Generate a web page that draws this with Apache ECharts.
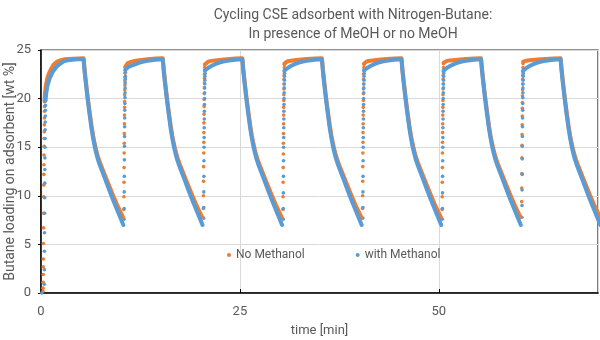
<!DOCTYPE html>
<html>
<head>
<meta charset="utf-8">
<script src="https://cdn.jsdelivr.net/npm/echarts@6/dist/echarts.min.js"></script>
<style>
html,body{margin:0;padding:0;background:#fff;}
#chart{width:600px;height:340px;}
</style>
</head>
<body>
<div id="chart"></div>
<script>
// ---- Data (time [min], butane loading [wt %]) ----
const titleLines = ['Cycling CSE adsorbent with Nitrogen-Butane:', 'In presence of MeOH or no MeOH'];
const seriesNames = ['No Methanol', 'with Methanol'];
const xAxisName = 'time [min]';
const yAxisName = 'Butane loading on adsorbent [wt %]';
const xMin = 0, xMax = 70, xStep = 25;
const yMin = 0, yMax = 25, yStep = 5;

// No Methanol: sparse points of the fast adsorption rise in each cycle
const noMethanolRise = [
  [0.25,0.2],[0.26,0.5],[0.27,1.1],[0.28,1.9],[0.29,2.7],[0.30,3.5],[0.31,5.1],[0.32,6.7],[0.33,8.2],[0.34,9.9],[0.35,11.1],[0.36,12.2],[0.37,13.2],[0.38,14.2],[0.39,15.1],[0.40,15.9],[0.41,16.6],[0.42,17.3],[0.43,18.0],[0.44,18.7],[0.45,19.2],
  [10.41,8.6],[10.42,9.9],[10.43,11.4],[10.44,12.9],[10.45,14.4],[10.46,15.4],[10.47,16.4],[10.48,17.4],[10.49,18.3],[10.50,19.1],[10.51,19.7],[10.52,20.4],[10.53,20.9],[10.54,21.4],[10.55,21.8],[10.56,22.2],[10.57,22.6],[10.58,22.9],[10.59,23.2],
  [20.41,8.7],[20.42,10.0],[20.43,11.5],[20.44,13.0],[20.45,14.4],[20.46,15.5],[20.47,16.5],[20.48,17.5],[20.49,18.4],[20.50,19.2],[20.51,19.9],[20.52,20.5],[20.53,21.1],[20.54,21.6],[20.55,22.1],[20.56,22.5],[20.57,22.9],[20.58,23.2],[20.59,23.5],
  [30.41,8.6],[30.42,9.9],[30.43,11.4],[30.44,12.9],[30.45,14.3],[30.46,15.4],[30.47,16.4],[30.48,17.4],[30.49,18.3],[30.50,19.1],[30.51,19.8],[30.52,20.4],[30.53,21.0],[30.54,21.5],[30.55,22.0],[30.56,22.4],[30.57,22.8],[30.58,23.2],[30.59,23.5],
  [40.41,8.7],[40.42,10.0],[40.43,11.5],[40.44,13.0],[40.45,14.4],[40.46,15.5],[40.47,16.5],[40.48,17.4],[40.49,18.3],[40.50,19.1],[40.51,19.8],[40.52,20.5],[40.53,21.0],[40.54,21.5],[40.55,22.0],[40.56,22.5],[40.57,22.9],[40.58,23.2],[40.59,23.5],
  [50.41,8.6],[50.42,9.9],[50.43,11.4],[50.44,12.9],[50.45,14.4],[50.46,15.5],[50.47,16.5],[50.48,17.4],[50.49,18.3],[50.50,19.1],[50.51,19.8],[50.52,20.4],[50.53,21.0],[50.54,21.5],[50.55,22.0],[50.56,22.4],[50.57,22.8],[50.58,23.2],[50.59,23.6],
  [60.41,9.4],[60.42,10.8],[60.43,12.3],[60.44,13.9],[60.45,15.2],[60.46,16.3],[60.47,17.3],[60.48,18.2],[60.49,19.0],[60.50,19.6],[60.51,20.3],[60.52,20.9],[60.53,21.5],[60.54,22.0],[60.55,22.4],[60.56,22.8],[60.57,23.2],[60.58,23.6]
];

// No Methanol: densely sampled plateau + desorption stretches ('-' = gap between cycles)
const noMethanolBand = [
  [0.45,19.7],[0.5,20.6],[0.6,21.3],[0.8,22.1],[1.0,22.6],[1.3,23.1],[1.6,23.5],[2.0,23.8],[2.5,23.95],[3.0,24.05],[4.0,24.1],[5.35,24.15],
  [5.45,23.3],[5.6,22.1],[5.85,20.3],[6.1,18.7],[6.35,17.2],[6.55,16.2],[6.75,15.35],[6.95,14.65],[7.15,14.05],[7.35,13.55],[7.65,12.9],[8.05,12.1],[8.55,11.05],[9.05,10.05],[9.55,9.1],[9.95,8.4],[10.3,7.8],[10.3,'-'],
  [10.6,23.3],[10.7,23.5],[10.9,23.65],[11.4,23.8],[11.9,23.9],[12.4,23.95],[13.4,24.05],[14.4,24.12],[15.3,24.15],
  [15.4,23.3],[15.55,22.1],[15.8,20.3],[16.05,18.7],[16.3,17.2],[16.5,16.2],[16.7,15.35],[16.9,14.65],[17.1,14.05],[17.3,13.55],[17.6,12.9],[18.0,12.1],[18.5,11.05],[19.0,10.05],[19.5,9.1],[19.9,8.4],[20.25,7.8],[20.25,'-'],
  [20.6,23.5],[20.75,23.7],[21.0,23.8],[21.4,23.88],[22.4,23.98],[23.4,24.06],[24.4,24.12],[25.3,24.15],
  [25.4,23.3],[25.55,22.1],[25.8,20.3],[26.05,18.7],[26.3,17.2],[26.5,16.2],[26.7,15.35],[26.9,14.65],[27.1,14.05],[27.3,13.55],[27.6,12.9],[28.0,12.1],[28.5,11.05],[29.0,10.05],[29.5,9.1],[29.9,8.4],[30.25,7.8],[30.25,'-'],
  [30.6,23.6],[30.75,23.75],[31.0,23.85],[31.4,23.9],[32.4,24.0],[33.4,24.08],[34.4,24.12],[35.3,24.15],
  [35.4,23.3],[35.55,22.1],[35.8,20.3],[36.05,18.7],[36.3,17.2],[36.5,16.2],[36.7,15.35],[36.9,14.65],[37.1,14.05],[37.3,13.55],[37.6,12.9],[38.0,12.1],[38.5,11.05],[39.0,10.05],[39.5,9.1],[39.9,8.4],[40.25,7.8],[40.25,'-'],
  [40.6,23.6],[40.75,23.75],[41.0,23.85],[41.4,23.9],[42.4,24.0],[43.4,24.08],[44.4,24.12],[45.3,24.15],
  [45.4,23.3],[45.55,22.1],[45.8,20.3],[46.05,18.7],[46.3,17.2],[46.5,16.2],[46.7,15.35],[46.9,14.65],[47.1,14.05],[47.3,13.55],[47.6,12.9],[48.0,12.1],[48.5,11.05],[49.0,10.05],[49.5,9.1],[49.9,8.4],[50.25,7.8],[50.25,'-'],
  [50.6,23.7],[50.75,23.8],[51.0,23.88],[51.4,23.92],[52.4,24.0],[53.4,24.08],[54.4,24.12],[55.3,24.15],
  [55.4,23.3],[55.55,22.1],[55.8,20.3],[56.05,18.7],[56.3,17.2],[56.5,16.2],[56.7,15.35],[56.9,14.65],[57.1,14.05],[57.3,13.55],[57.6,12.9],[58.0,12.1],[58.5,11.05],[59.0,10.05],[59.5,9.1],[59.9,8.4],[60.25,7.8],[60.25,'-'],
  [60.6,23.8],[60.75,23.85],[61.0,23.9],[61.4,23.95],[62.4,24.02],[63.4,24.08],[64.4,24.12],[65.3,24.15],
  [65.4,23.3],[65.55,22.1],[65.8,20.3],[66.05,18.7],[66.3,17.2],[66.5,16.2],[66.7,15.35],[66.9,14.65],[67.1,14.05],[67.3,13.55],[67.6,12.9],[68.0,12.1],[68.5,11.05],[69.0,10.05],[69.5,9.1],[69.9,8.4],[70.25,7.8]
];

// with Methanol: sparse points of the fast adsorption rise
const withMethanolRise = [
  [0.10,0.0],[0.41,0.9],[0.42,2.4],[0.43,4.3],[0.44,6.2],[0.45,8.2],[0.46,9.8],[0.47,11.3],[0.48,12.7],[0.49,13.9],[0.50,15.0],[0.51,15.9],[0.52,16.8],[0.53,17.6],[0.54,18.2],[0.55,18.8],[0.56,19.3],[0.57,19.8],
  [10.44,7.6],[10.45,8.7],[10.46,10.4],[10.47,12.0],[10.48,13.7],[10.49,15.1],[10.50,16.1],[10.51,17.1],[10.52,18.0],[10.53,18.8],[10.54,19.5],[10.55,20.1],[10.56,20.6],[10.57,21.1],[10.58,21.6],[10.59,22.0],[10.60,22.3],[10.61,22.7],
  [20.44,7.7],[20.45,8.8],[20.46,10.4],[20.47,12.0],[20.48,13.6],[20.49,15.0],[20.50,16.0],[20.51,17.0],[20.52,17.9],[20.53,18.7],[20.54,19.4],[20.55,20.0],[20.56,20.6],[20.57,21.1],[20.58,21.5],[20.59,21.9],[20.60,22.3],[20.61,22.6],
  [30.44,7.6],[30.45,8.7],[30.46,10.3],[30.47,12.0],[30.48,13.6],[30.49,15.0],[30.50,16.0],[30.51,17.0],[30.52,17.9],[30.53,18.7],[30.54,19.4],[30.55,20.0],[30.56,20.6],[30.57,21.1],[30.58,21.5],[30.59,21.9],[30.60,22.3],[30.61,22.6],
  [40.44,7.7],[40.45,8.8],[40.46,10.4],[40.47,12.0],[40.48,13.6],[40.49,15.0],[40.50,16.0],[40.51,17.0],[40.52,17.9],[40.53,18.7],[40.54,19.4],[40.55,20.0],[40.56,20.6],[40.57,21.1],[40.58,21.5],[40.59,21.9],[40.60,22.3],[40.61,22.6],
  [50.44,7.6],[50.45,8.7],[50.46,10.3],[50.47,12.0],[50.48,13.6],[50.49,15.0],[50.50,16.0],[50.51,17.0],[50.52,17.9],[50.53,18.7],[50.54,19.4],[50.55,20.0],[50.56,20.6],[50.57,21.1],[50.58,21.5],[50.59,21.9],[50.60,22.3],[50.61,22.6],
  [60.44,7.8],[60.45,9.0],[60.46,10.6],[60.47,12.2],[60.48,13.8],[60.49,15.1],[60.50,16.1],[60.51,17.1],[60.52,18.0],[60.53,18.8],[60.54,19.5],[60.55,20.1],[60.56,20.6],[60.57,21.1],[60.58,21.5],[60.59,21.9],[60.60,22.3],[60.61,22.6]
];

// with Methanol: densely sampled plateau + desorption stretches
const withMethanolBand = [
  [0.57,19.8],[0.65,20.5],[0.8,21.3],[1.1,22.1],[1.5,22.8],[2.1,23.4],[2.8,23.8],[3.4,23.95],[4.5,24.05],[5.35,24.05],
  [5.45,23.0],[5.6,21.8],[5.85,20.0],[6.1,18.4],[6.35,16.9],[6.55,15.9],[6.75,15.05],[6.95,14.35],[7.15,13.75],[7.35,13.25],[7.65,12.6],[8.05,11.75],[8.55,10.65],[9.05,9.6],[9.55,8.6],[9.95,7.8],[10.35,7.0],[10.35,'-'],
  [10.62,23.0],[10.75,23.1],[11.0,23.25],[11.4,23.4],[11.9,23.55],[12.4,23.7],[12.9,23.82],[13.4,23.9],[14.4,24.0],[15.3,24.05],
  [15.4,23.0],[15.55,21.8],[15.8,20.0],[16.05,18.4],[16.3,16.9],[16.5,15.9],[16.7,15.05],[16.9,14.35],[17.1,13.75],[17.3,13.25],[17.6,12.6],[18.0,11.75],[18.5,10.65],[19.0,9.6],[19.5,8.6],[19.9,7.8],[20.3,7.0],[20.3,'-'],
  [20.62,22.9],[20.75,23.0],[21.0,23.15],[21.4,23.35],[21.9,23.55],[22.4,23.7],[22.9,23.82],[23.4,23.9],[24.4,24.0],[25.3,24.05],
  [25.4,23.0],[25.55,21.8],[25.8,20.0],[26.05,18.4],[26.3,16.9],[26.5,15.9],[26.7,15.05],[26.9,14.35],[27.1,13.75],[27.3,13.25],[27.6,12.6],[28.0,11.75],[28.5,10.65],[29.0,9.6],[29.5,8.6],[29.9,7.8],[30.3,7.0],[30.3,'-'],
  [30.62,22.9],[30.75,23.0],[31.0,23.15],[31.4,23.35],[31.9,23.55],[32.4,23.7],[32.9,23.82],[33.4,23.9],[34.4,24.0],[35.3,24.05],
  [35.4,23.0],[35.55,21.8],[35.8,20.0],[36.05,18.4],[36.3,16.9],[36.5,15.9],[36.7,15.05],[36.9,14.35],[37.1,13.75],[37.3,13.25],[37.6,12.6],[38.0,11.75],[38.5,10.65],[39.0,9.6],[39.5,8.6],[39.9,7.8],[40.3,7.0],[40.3,'-'],
  [40.62,22.9],[40.75,23.0],[41.0,23.15],[41.4,23.35],[41.9,23.55],[42.4,23.7],[42.9,23.82],[43.4,23.9],[44.4,24.0],[45.3,24.05],
  [45.4,23.0],[45.55,21.8],[45.8,20.0],[46.05,18.4],[46.3,16.9],[46.5,15.9],[46.7,15.05],[46.9,14.35],[47.1,13.75],[47.3,13.25],[47.6,12.6],[48.0,11.75],[48.5,10.65],[49.0,9.6],[49.5,8.6],[49.9,7.8],[50.3,7.0],[50.3,'-'],
  [50.62,22.9],[50.75,23.0],[51.0,23.15],[51.4,23.35],[51.9,23.55],[52.4,23.7],[52.9,23.82],[53.4,23.9],[54.4,24.0],[55.3,24.05],
  [55.4,23.0],[55.55,21.8],[55.8,20.0],[56.05,18.4],[56.3,16.9],[56.5,15.9],[56.7,15.05],[56.9,14.35],[57.1,13.75],[57.3,13.25],[57.6,12.6],[58.0,11.75],[58.5,10.65],[59.0,9.6],[59.5,8.6],[59.9,7.8],[60.3,7.0],[60.3,'-'],
  [60.62,22.9],[60.75,23.0],[61.0,23.15],[61.4,23.35],[61.9,23.55],[62.4,23.7],[62.9,23.82],[63.4,23.9],[64.4,24.0],[65.3,24.05],
  [65.4,23.0],[65.55,21.8],[65.8,20.0],[66.05,18.4],[66.3,16.9],[66.5,15.9],[66.7,15.05],[66.9,14.35],[67.1,13.75],[67.3,13.25],[67.6,12.6],[68.0,11.75],[68.5,10.65],[69.0,9.6],[69.5,8.6],[69.9,7.8],[70.3,7.0]
];

// ---- Styling ----
const ORANGE = '#ED7D31';
const BLUE = '#5B9BD5';
const TEXT = '#595959';
const LABEL_FONT = 'Roboto, "Noto Sans", sans-serif';
const TITLE_FONT = 'Roboto, sans-serif';

const chart = echarts.init(document.getElementById('chart'), null, {renderer: 'canvas'});

function riseSeries(name, color, data) {
  return {
    name: name, type: 'scatter', data: data,
    symbol: 'circle', symbolSize: 3.6,
    itemStyle: {color: color, opacity: 1},
    silent: true, animation: false
  };
}
function bandSeries(name, color, data) {
  return {
    name: name, type: 'line', data: data,
    showSymbol: false, connectNulls: false, clip: true,
    lineStyle: {color: color, width: 4, cap: 'round', join: 'round'},
    itemStyle: {color: color},
    silent: true, animation: false
  };
}

chart.setOption({
  backgroundColor: '#ffffff',
  animation: false,
  title: {
    text: titleLines.join('\n'),
    left: 348, top: 1, textAlign: 'center',
    textStyle: {fontFamily: TITLE_FONT, fontSize: 14, fontWeight: 'normal', color: TEXT, lineHeight: 19}
  },
  legend: {
    data: seriesNames,
    left: 222, top: 244,
    icon: 'circle', itemWidth: 4, itemHeight: 4, itemGap: 51,
    textStyle: {fontFamily: LABEL_FONT, fontSize: 12, color: TEXT},
    selectedMode: false
  },
  grid: {
    left: 41, right: 2, top: 50, bottom: 47, containLabel: false, outerBoundsMode: 'none',
    show: true, borderColor: '#262626', borderWidth: 1.2, backgroundColor: 'transparent'
  },
  xAxis: {
    type: 'value', min: xMin, max: xMax, interval: xStep,
    name: xAxisName, nameLocation: 'middle', nameGap: 31, nameMoveOverlap: false,
    nameTextStyle: {fontFamily: LABEL_FONT, fontSize: 13, color: TEXT},
    axisLine: {show: true, lineStyle: {color: '#000', width: 1.5}},
    axisTick: {show: true, inside: true, length: 4, lineStyle: {color: '#000'}},
    axisLabel: {fontFamily: LABEL_FONT, fontSize: 13, color: TEXT, margin: 12, showMaxLabel: false},
    splitLine: {show: true, lineStyle: {color: '#D9D9D9', width: 1}}
  },
  yAxis: {
    type: 'value', min: yMin, max: yMax, interval: yStep,
    name: yAxisName, nameLocation: 'middle', nameGap: 24, nameMoveOverlap: false,
    nameTextStyle: {fontFamily: LABEL_FONT, fontSize: 14, color: TEXT},
    axisLine: {show: true, lineStyle: {color: '#000', width: 1.5}},
    axisTick: {show: true, inside: false, length: 3, lineStyle: {color: '#000'}},
    axisLabel: {fontFamily: LABEL_FONT, fontSize: 13, color: TEXT, margin: 10},
    splitLine: {show: true, lineStyle: {color: '#D9D9D9', width: 1}}
  },
  series: [
    riseSeries(seriesNames[0], ORANGE, noMethanolRise),
    bandSeries(seriesNames[0] + ' (dense)', ORANGE, noMethanolBand),
    riseSeries(seriesNames[1], BLUE, withMethanolRise),
    bandSeries(seriesNames[1] + ' (dense)', BLUE, withMethanolBand)
  ]
});
</script>
</body>
</html>
